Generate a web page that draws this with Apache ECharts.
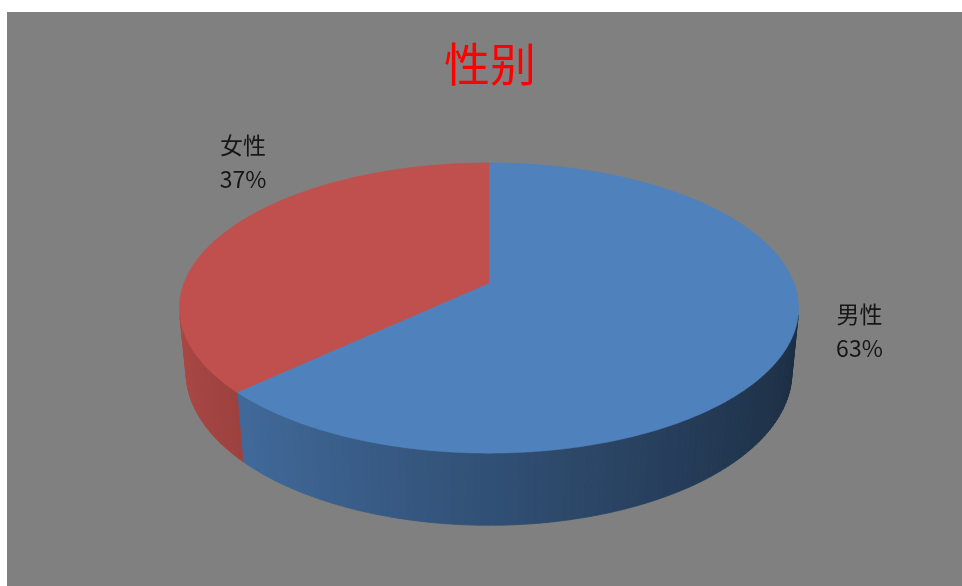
<!DOCTYPE html>
<html>
<head>
<meta charset="utf-8">
<script src="https://cdn.jsdelivr.net/npm/echarts@6/dist/echarts.min.js"></script>
<style>
  html, body { margin: 0; padding: 0; background: #ffffff; }
  #chart { position: absolute; left: 7px; top: 12px; width: 955px; height: 574px; }
</style>
</head>
<body>
<div id="chart"></div>
<script>
// Gender split
const categories = ['男性', '女性'];
const shares = [63, 37];

// Slice styling
const topColors = ['#4F81BD', '#C0504D'];
const labelOffsets = [[70, -12], [16, -68]];

// 3D view of the pie disc (radius 1, disc thickness in radius units)
const VIEW = {
  cx: 482, cy: 271,
  k: 305,
  dist: 5.15,
  tilt: 27.5 * Math.PI / 180,
  thickness: 0.24
};

const total = shares.reduce((a, b) => a + b, 0);
const cumulative = shares.map((_, i) => shares.slice(0, i).reduce((a, b) => a + b, 0));

function project(x, y, z) {
  const c = Math.cos(VIEW.tilt), s = Math.sin(VIEW.tilt);
  const F = VIEW.k * VIEW.dist;
  const depth = VIEW.dist - y * c - z * s;
  return [VIEW.cx + F * x / depth, VIEW.cy + F * (y * s - z * c) / depth];
}

function rim(phi, z) {
  return project(Math.cos(phi), Math.sin(phi), z);
}

function hexToRgb(hex) {
  const n = parseInt(hex.slice(1), 16);
  return [(n >> 16) & 255, (n >> 8) & 255, n & 255];
}

// Side wall shading: lighter on the left, darker toward the right
function shade(hex, phi) {
  const f = 0.62 - 0.27 * Math.cos(phi);
  const rgb = hexToRgb(hex).map(v => Math.round(v * f));
  return 'rgb(' + rgb.join(',') + ')';
}

function renderSlice(params, api) {
  const i = params.dataIndex;
  const v = api.value(0);
  const start = -Math.PI / 2 + 2 * Math.PI * cumulative[i] / total;
  const end = start + 2 * Math.PI * v / total;
  const color = topColors[i];
  const children = [];

  // Visible (front-facing) part of the outer wall
  const c = Math.cos(VIEW.tilt);
  const edge = Math.asin(1 / (VIEW.dist * c));
  const a = Math.max(start, edge);
  const b = Math.min(end, Math.PI - edge);
  if (b > a) {
    const steps = Math.max(2, Math.ceil((b - a) / (1.2 * Math.PI / 180)));
    for (let j = 0; j < steps; j++) {
      const p0 = a + (b - a) * j / steps;
      const p1 = a + (b - a) * (j + 1) / steps;
      const fill = shade(color, (p0 + p1) / 2);
      children.push({
        type: 'polygon',
        z2: 1,
        shape: { points: [rim(p0, 0), rim(p1, 0), rim(p1, -VIEW.thickness), rim(p0, -VIEW.thickness)] },
        style: { fill: fill, stroke: fill, lineWidth: 0.8 }
      });
    }
  }

  // Top face
  const pts = [project(0, 0, 0)];
  const n = Math.max(4, Math.ceil((end - start) / (0.5 * Math.PI / 180)));
  for (let j = 0; j <= n; j++) {
    pts.push(rim(start + (end - start) * j / n, 0));
  }
  children.push({
    type: 'polygon',
    z2: 10,
    shape: { points: pts },
    style: { fill: color, stroke: color, lineWidth: 0.5 }
  });

  // Data label
  const mid = (start + end) / 2;
  const anchor = rim(mid, 0);
  const pct = Math.round(v / total * 100) + '%';
  children.push({
    type: 'text',
    z2: 20,
    x: anchor[0] + labelOffsets[i][0],
    y: anchor[1] + labelOffsets[i][1],
    style: {
      text: categories[i] + '\n' + pct,
      fill: '#161616',
      fontSize: 23,
      fontFamily: '"Noto Sans CJK SC", "Noto Sans", sans-serif',
      align: 'center',
      verticalAlign: 'middle',
      lineHeight: 34
    }
  });

  return { type: 'group', children: children };
}

const chart = echarts.init(document.getElementById('chart'), null, { renderer: 'canvas' });
chart.setOption({
  animation: false,
  backgroundColor: '#808080',
  title: {
    text: '性别',
    left: 432,
    top: 24,
    textStyle: {
      color: '#FF0000',
      fontSize: 46,
      fontWeight: 'normal',
      fontFamily: 'SimSun, "Noto Sans CJK SC", serif'
    }
  },
  series: [{
    type: 'custom',
    coordinateSystem: 'none',
    silent: true,
    renderItem: renderSlice,
    data: shares.map((v, i) => ({ name: categories[i], value: [v] }))
  }]
});
</script>
</body>
</html>
